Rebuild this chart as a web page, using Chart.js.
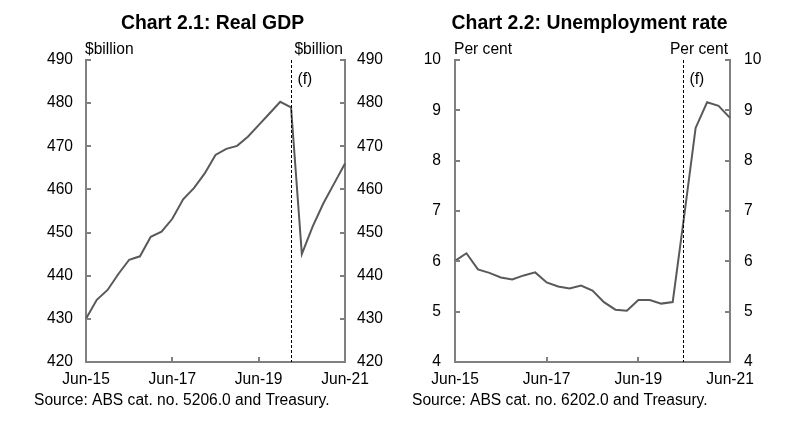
<!DOCTYPE html>
<html>
<head>
<meta charset="utf-8">
<script src="https://cdn.jsdelivr.net/npm/chart.js@4.4.0/dist/chart.umd.min.js"></script>
<style>
	body { margin: 0; background: #fff; }
	#wrap { position: relative; width: 804px; height: 436px; }
	.box { position: absolute; top: 0; width: 402px; height: 436px; }
</style>
</head>
<body>
<div id="wrap">
	<div class="box" style="left:0"><canvas id="gdpChart"></canvas></div>
	<div class="box" style="left:402px"><canvas id="urChart"></canvas></div>
</div>
<script>
/* Quarterly categories, Jun-15 to Jun-21 */
const quarters = ['Jun-15', 'Sep-15', 'Dec-15', 'Mar-16', 'Jun-16', 'Sep-16', 'Dec-16',
                  'Mar-17', 'Jun-17', 'Sep-17', 'Dec-17', 'Mar-18', 'Jun-18', 'Sep-18',
                  'Dec-18', 'Mar-19', 'Jun-19', 'Sep-19', 'Dec-19', 'Mar-20', 'Jun-20',
                  'Sep-20', 'Dec-20', 'Mar-21', 'Jun-21'];
const xTickLabels = ['Jun-15', 'Jun-17', 'Jun-19', 'Jun-21'];

/* Chart 2.1: Real GDP, $billion */
const gdpValues = [430.0, 434.4, 436.7, 440.4, 443.7, 444.5, 449.0, 450.2, 453.2,
                   457.7, 460.3, 463.7, 468.0, 469.4, 470.1, 472.2, 474.9, 477.6,
                   480.3, 479.0, 445.0, 451.4, 456.8, 461.4, 466.0];
const gdpForecastFrom = 'Mar-20';

/* Chart 2.2: Unemployment rate, per cent */
const urValues = [6.01, 6.16, 5.84, 5.77, 5.68, 5.64, 5.72, 5.78, 5.58, 5.50, 5.46,
                  5.52, 5.42, 5.19, 5.04, 5.02, 5.23, 5.23, 5.16, 5.19, 6.90, 8.65,
                  9.16, 9.09, 8.85];
const urForecastFrom = 'Jun-20';

const FONT = '"Liberation Sans", Arial, sans-serif';
const AXIS_GREY = '#808080';

Chart.defaults.font.family = FONT;
Chart.defaults.font.size = 15.6;
Chart.defaults.color = '#000';

/**
 * Draws inward ticks, forecast divider and the text around the plot.
 */
const decorPlugin = {
	id: 'decor',
	afterDraw(chart, args, opts) {
		const ctx = chart.ctx;
		const area = chart.chartArea;
		const xs = chart.scales.x;
		const yl = chart.scales.y;

		ctx.save();

		/* inner tick marks */
		ctx.strokeStyle = AXIS_GREY;
		ctx.lineWidth = 2;
		ctx.beginPath();
		yl.ticks.forEach(function(t) {
			const py = Math.round(yl.getPixelForValue(t.value));
			ctx.moveTo(area.left, py);
			ctx.lineTo(area.left + 5, py);
			ctx.moveTo(area.right, py);
			ctx.lineTo(area.right - 5, py);
		});
		xTickLabels.forEach(function(lab) {
			const px = Math.round(xs.getPixelForValue(quarters.indexOf(lab)));
			ctx.moveTo(px, area.bottom);
			ctx.lineTo(px, area.bottom - 5);
		});
		ctx.stroke();

		/* forecast divider */
		const fx = Math.round(xs.getPixelForValue(quarters.indexOf(opts.forecastFrom)) + opts.dashShift) + 0.5;
		ctx.strokeStyle = '#000';
		ctx.lineWidth = 1;
		ctx.setLineDash([3, 2]);
		ctx.beginPath();
		ctx.moveTo(fx, area.top);
		ctx.lineTo(fx, area.bottom);
		ctx.stroke();
		ctx.setLineDash([]);

		/* texts */
		ctx.fillStyle = '#000';
		ctx.textBaseline = 'middle';
		ctx.font = 'bold 19.4px ' + FONT;
		ctx.textAlign = 'center';
		ctx.fillText(opts.title, (area.left + area.right) / 2 - 3, 24);

		ctx.font = '15.6px ' + FONT;
		ctx.textAlign = 'left';
		ctx.fillText(opts.unit, area.left - 1, 50);
		ctx.fillText('(f)', fx + 6, 80);
		ctx.fillText(opts.source, opts.sourceX, 401);
		ctx.textAlign = 'right';
		ctx.fillText(opts.unit, area.right - 2, 50);

		ctx.restore();
	}
};

function yAxis(position, min, max, step, width, pad) {
	return {
		type: 'linear',
		position: position,
		min: min,
		max: max,
		afterFit: function(scale) { scale.width = width; },
		grid: { display: true, drawOnChartArea: false, drawTicks: false },
		border: { display: true, color: AXIS_GREY, width: 2 },
		ticks: { stepSize: step, padding: pad, color: '#000' }
	};
}

/**
 * Creates one of the two line charts.
 */
function makeChart(canvasID, values, cfg) {
	return new Chart(document.getElementById(canvasID), {
		type: 'line',
		data: {
			labels: quarters,
			datasets: [{
				data: values,
				borderColor: '#595959',
				borderWidth: 2,
				pointRadius: 0,
				tension: 0,
				yAxisID: 'y'
			}]
		},
		options: {
			responsive: true,
			maintainAspectRatio: false,
			animation: false,
			layout: { padding: { top: 60, left: 0, right: 0, bottom: 0 } },
			plugins: {
				legend: { display: false },
				tooltip: { enabled: false },
				decor: cfg
			},
			scales: {
				x: {
					type: 'category',
					offset: false,
					afterFit: function(scale) { scale.height = 74; },
					grid: { display: true, drawOnChartArea: false, drawTicks: false },
					border: { display: true, color: AXIS_GREY, width: 2 },
					ticks: {
						autoSkip: false,
						maxRotation: 0,
						padding: 8,
						color: '#000',
						callback: function(v) {
							const lab = quarters[v];
							return xTickLabels.indexOf(lab) >= 0 ? lab : '';
						}
					}
				},
				y: yAxis('left', cfg.min, cfg.max, cfg.step, cfg.leftW, cfg.leftPad),
				y2: yAxis('right', cfg.min, cfg.max, cfg.step, cfg.rightW, cfg.rightPad)
			}
		},
		plugins: [decorPlugin]
	});
}

makeChart('gdpChart', gdpValues, {
	title: 'Chart 2.1: Real GDP',
	unit: '$billion',
	source: 'Source: ABS cat. no. 5206.0 and Treasury.',
	sourceX: 34,
	forecastFrom: gdpForecastFrom,
	dashShift: 0,
	min: 420, max: 490, step: 10,
	leftW: 86, rightW: 57, leftPad: 13, rightPad: 12
});

makeChart('urChart', urValues, {
	title: 'Chart 2.2: Unemployment rate',
	unit: 'Per cent',
	source: 'Source: ABS cat. no. 6202.0 and Treasury.',
	sourceX: 10,
	forecastFrom: urForecastFrom,
	dashShift: -1.5,
	min: 4, max: 10, step: 1,
	leftW: 53, rightW: 74, leftPad: 14, rightPad: 14
});
</script>
</body>
</html>
